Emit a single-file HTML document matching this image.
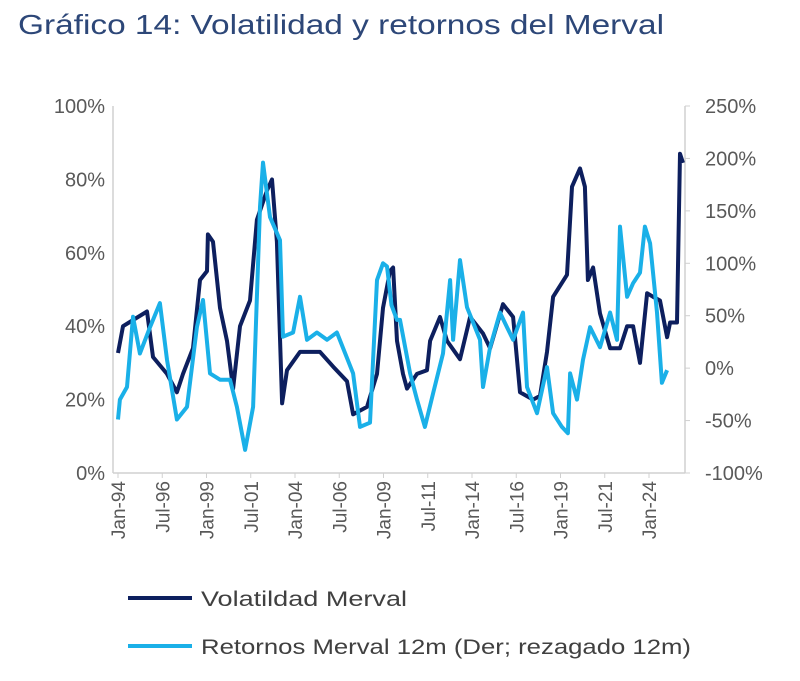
<!DOCTYPE html>
<html><head><meta charset="utf-8"><style>
body{margin:0;background:#fff;width:800px;height:676px;overflow:hidden}
svg text{font-family:"Liberation Sans",sans-serif}
</style></head><body>
<svg width="800" height="676">
<text x="18" y="34" font-size="28" fill="#2d4778" textLength="646" lengthAdjust="spacingAndGlyphs">Gráfico 14: Volatilidad y retornos del Merval</text>
<g id="axes"></g>
<g id="series"></g>
<g>
<line x1="128" y1="598" x2="192" y2="598" stroke="#0d1f5e" stroke-width="4"/>
<text x="201" y="606" font-size="21" fill="#404040" textLength="206" lengthAdjust="spacingAndGlyphs">Volatildad Merval</text>
<line x1="128" y1="646" x2="192" y2="646" stroke="#1ab0e8" stroke-width="4"/>
<text x="201" y="654" font-size="21" fill="#404040" textLength="490" lengthAdjust="spacingAndGlyphs">Retornos Merval 12m (Der; rezagado 12m)</text>
</g>
</svg>
<script>
const xLabels=["Jan-94","Jul-96","Jan-99","Jul-01","Jan-04","Jul-06","Jan-09","Jul-11","Jan-14","Jul-16","Jan-19","Jul-21","Jan-24"];
const leftTicks=[0,20,40,60,80,100];
const rightTicks=[-100,-50,0,50,100,150,200,250];
const volT=[0,0.28,1.64,1.98,2.77,3.33,3.67,4.24,4.63,5.03,5.08,5.37,5.76,6.16,6.5,6.89,7.46,7.85,8.42,8.7,8.98,9.27,9.55,10.28,11.41,12.15,12.94,13.28,14.07,14.63,14.97,15.37,15.54,15.76,16.1,16.33,16.89,17.46,17.63,18.19,18.59,19.32,19.89,20.62,21.02,21.75,22.32,22.71,23.45,23.84,24.24,24.58,25.37,25.65,26.1,26.38,26.55,26.84,27.23,27.8,28.36,28.76,29.1,29.49,29.89,30.23,30.62,31.02,31.19,31.58,31.75,31.92];
const volV=[32.7,40,44,31.6,27,22,27,34,52.6,55,65,63,45,36,23,40,47,69,77,80,63,19,28,33,33,29,25,16,18,27,45,55,56,36,27,23,27,28,36,42.5,36,31,42.5,38,34,46,42.5,22,20,21,33,48,54,78,83,78,52.6,56,43.5,34,34,40,40,30,49,48,47,37,41,41,87,84.5];
const retT=[0,0.11,0.51,0.85,1.24,1.81,2.37,2.77,3.33,3.9,4.46,4.8,5.2,5.76,6.33,6.72,7.18,7.63,8.02,8.19,8.59,9.15,9.32,9.89,10.28,10.68,11.24,11.81,12.37,13.28,13.67,14.24,14.63,14.97,15.2,15.45,15.76,15.93,16.5,16.89,17.34,17.8,18.36,18.76,18.93,19.32,19.72,20.45,20.62,21.02,21.58,21.98,22.32,22.88,23.11,23.67,24.24,24.58,25.08,25.42,25.54,25.93,26.27,26.67,27.23,27.8,28.19,28.36,28.76,29.1,29.49,29.77,30.06,30.45,30.73,31.02];
const retV=[-49,-30,-18,49,14,39,62,8,-49,-37,39,65,-5,-11,-11,-37,-78,-37,154,196,144,122,30,34,68,27,34,27,34,-5,-56,-52,84,100,97,60,46,46,-5,-30,-56,-24,14,84,27,103,58,27,-18,20,53,39,27,53,-18,-43,1,-43,-56,-62,-5,-30,8,39,20,53,27,135,68,81,91,135,119,53,-14,-2];
const NS="http://www.w3.org/2000/svg";
const X0=113,X1=685,Y0=106,Y1=473;
const xs=t=>118+t*17.7;
const yl=v=>Y1-(v/100)*(Y1-Y0);
const yr=v=>Y1-((v+100)/350)*(Y1-Y0);
const axes=document.getElementById('axes'),series=document.getElementById('series');
function mk(tag,attrs,parent){const e=document.createElementNS(NS,tag);for(const k in attrs)e.setAttribute(k,attrs[k]);parent.appendChild(e);return e;}
let e;
e=mk('line',{x1:X0,y1:Y0,x2:X0,y2:Y1,stroke:'#d0d0d0','stroke-width':1.5},axes);


e=mk('line',{x1:X1,y1:Y0,x2:X1,y2:Y1,stroke:'#d0d0d0','stroke-width':1.5},axes);


e=mk('line',{x1:X0,y1:Y1,x2:X1,y2:Y1,stroke:'#d0d0d0','stroke-width':1.5},axes);


leftTicks.forEach(v=>{
 e=mk('text',{x:X0-8,y:yl(v)+7,'font-size':20,fill:'#595959','text-anchor':'end'},axes);e.textContent=v+'%';
 
 
});
rightTicks.forEach(v=>{
 e=mk('line',{x1:X1,y1:yr(v),x2:X1+5,y2:yr(v),stroke:'#d0d0d0'},axes);
 
 
 e=mk('text',{x:X1+20,y:yr(v)+7,'font-size':20,fill:'#595959'},axes);e.textContent=v+'%';
 
 
});
xLabels.forEach((s,i)=>{
 const x=xs(i*2.5);
 e=mk('line',{x1:x,y1:Y1,x2:x,y2:Y1+5,stroke:'#d0d0d0'},axes);
 
 
 e=mk('text',{x:0,y:0,'font-size':19,fill:'#595959','text-anchor':'end',transform:`translate(${x+7},${Y1+8}) rotate(-90)`},axes);e.textContent=s;
 
 
});
function path(T,V,f){return T.map((t,i)=>(i?'L':'M')+xs(t).toFixed(1)+','+f(V[i]).toFixed(1)).join('');}
e=mk('path',{d:path(retT,retV,yr),fill:'none',stroke:'#1ab0e8','stroke-width':4,'stroke-linejoin':'round'},series);


e=mk('path',{d:path(volT,volV,yl),fill:'none',stroke:'#0d1f5e','stroke-width':4,'stroke-linejoin':'round'},series);


series.appendChild(series.firstChild);
</script>
</body></html>
